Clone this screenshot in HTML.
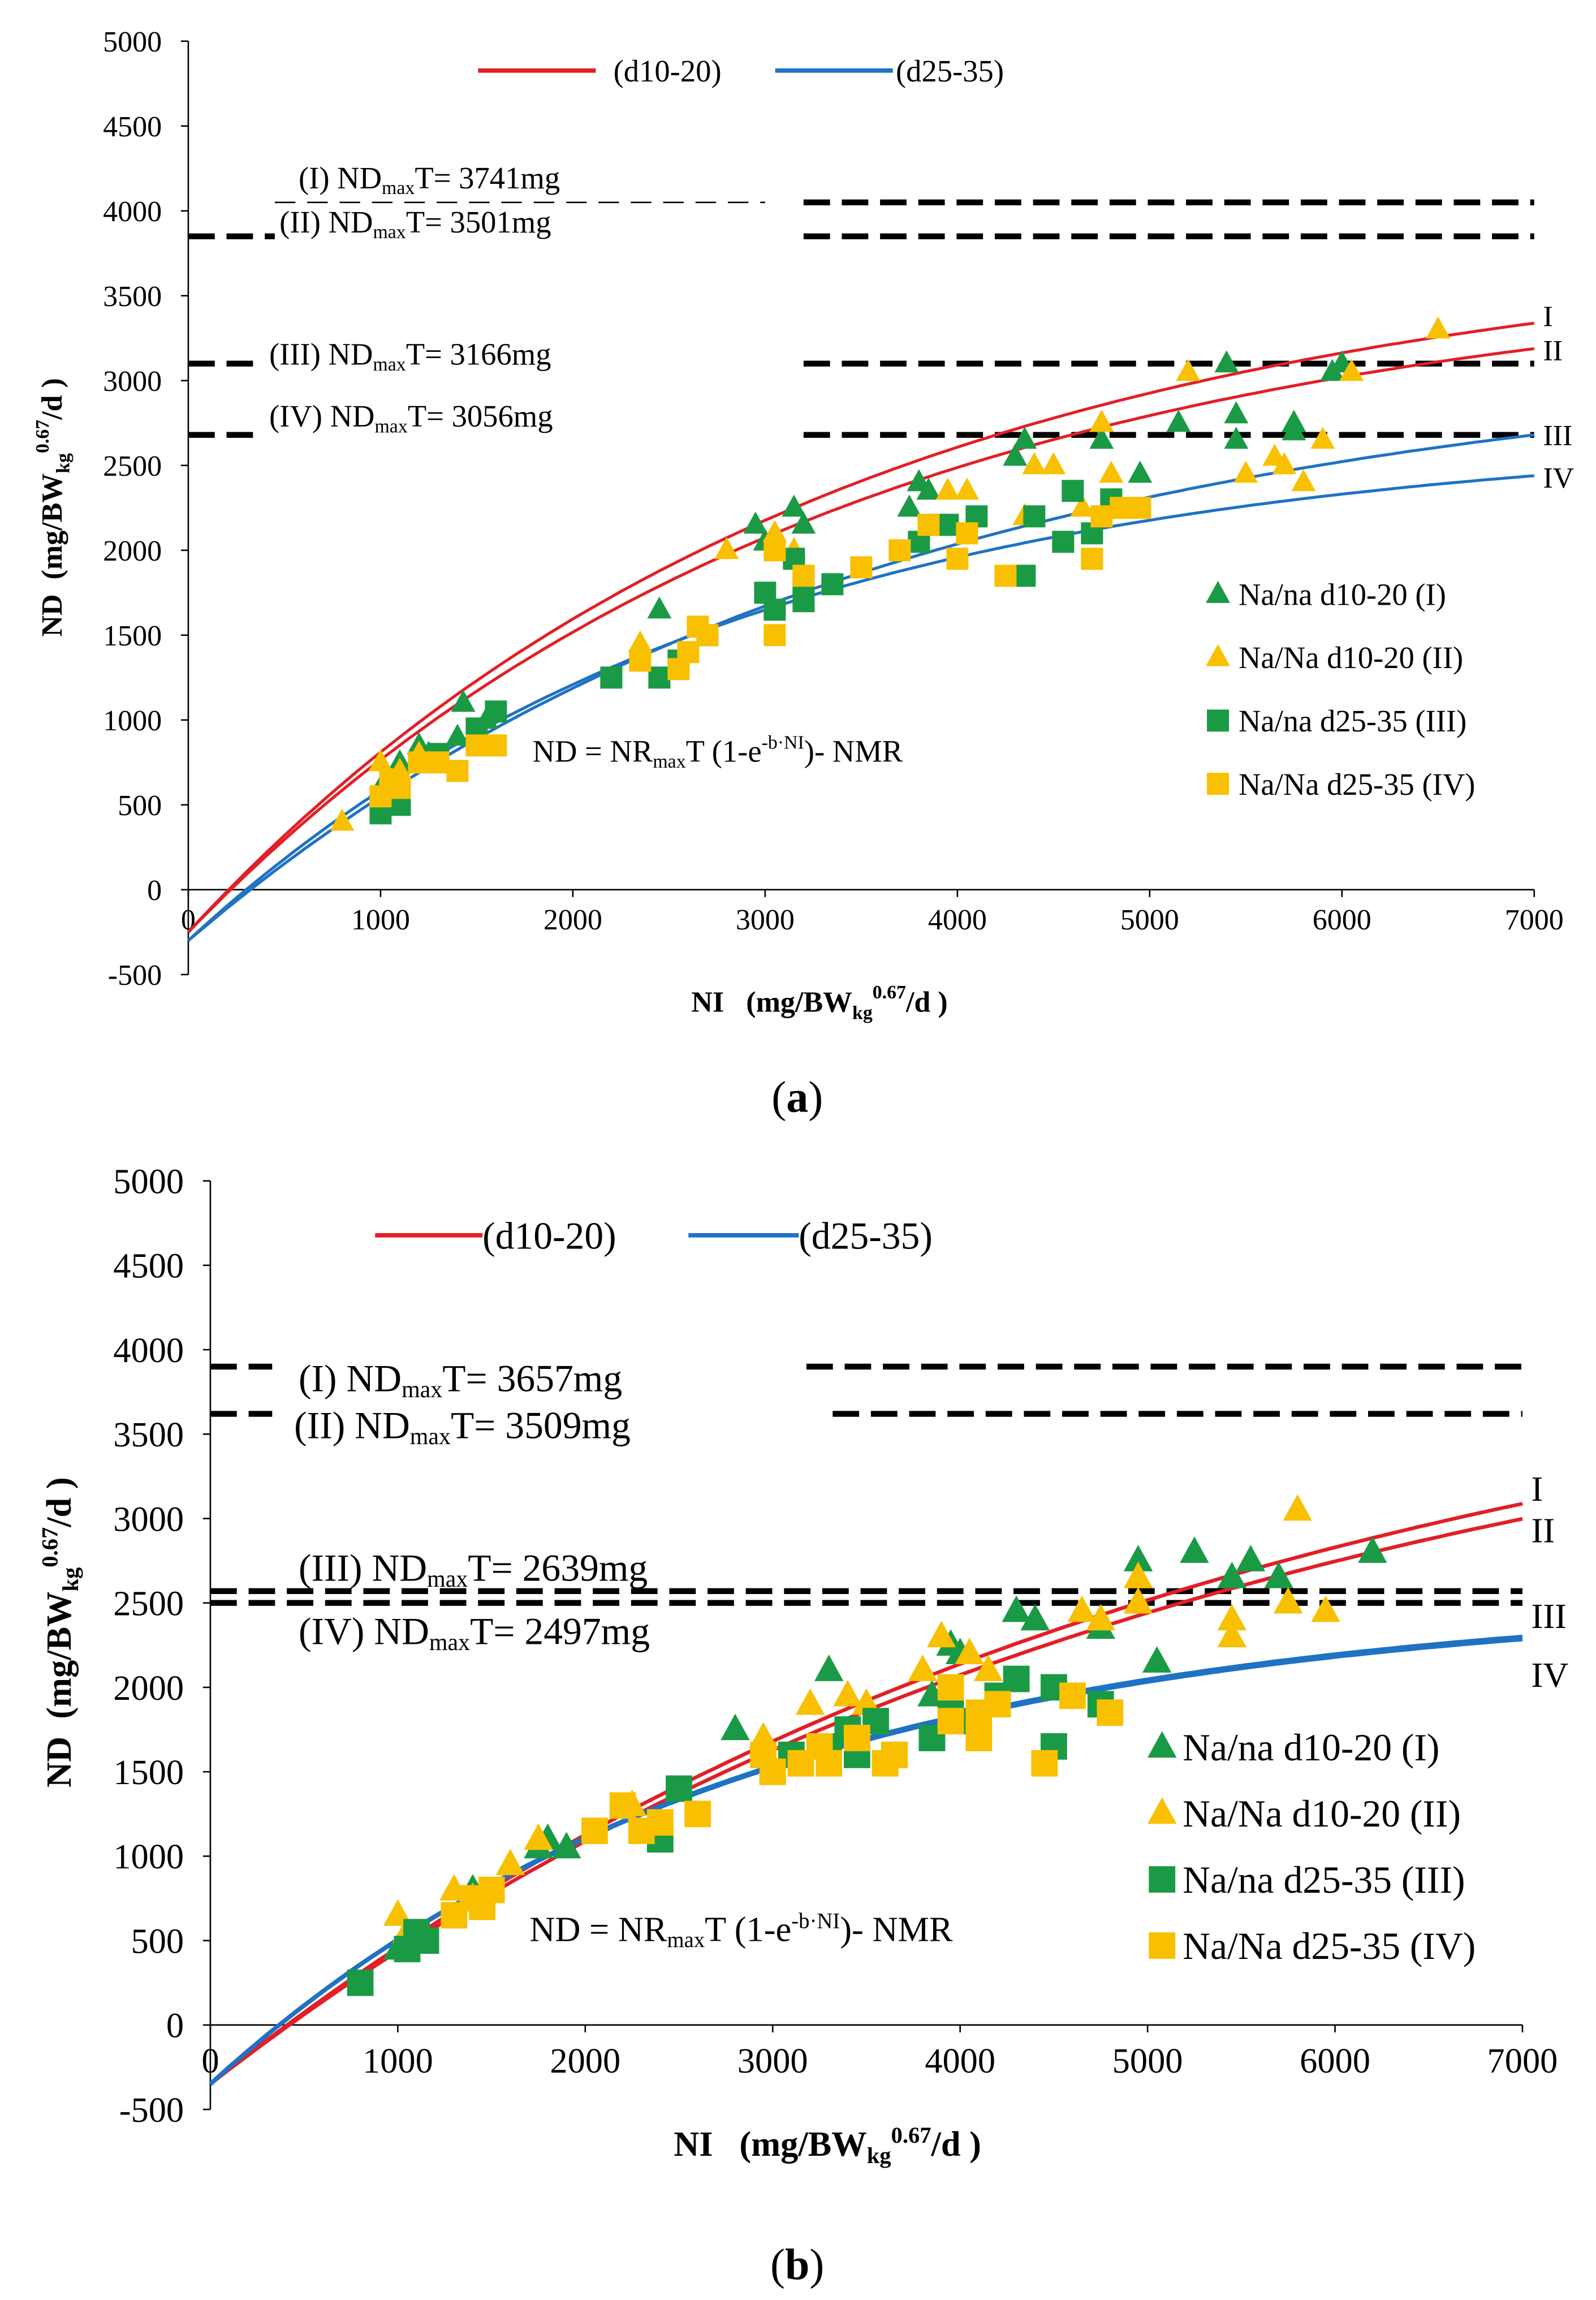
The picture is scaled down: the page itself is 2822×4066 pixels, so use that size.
<!DOCTYPE html>
<html><head><meta charset="utf-8">
<style>
html,body{margin:0;padding:0;background:#fff;}
svg{display:block;font-family:"Liberation Serif",serif;}
svg text{font-family:"Liberation Serif",serif;}
</style></head>
<body>
<svg id="fig" width="2822" height="4066" viewBox="0 0 1085 1564" preserveAspectRatio="none" font-family="Liberation Serif, serif" xmlns="http://www.w3.org/2000/svg">
</svg>
<script>
// ---- Panel (a) data ----
const aTriG=[[1000,600],[1100,750],[1200,850],[1250,800],[1400,900],[1430,1100],[1550,1000],[2450,1650],[2950,2150],[3000,2050],[3150,2250],[3200,2150],[3750,2250],[3800,2400],[3850,2350],[4300,2550],[4350,2650],[4750,2750],[4750,2650],[4950,2450],[5150,2750],[5400,3100],[5450,2800],[5450,2650],[5750,2700],[5750,2750],[5950,3050],[6000,3100]];
const aTriY=[[800,400],[1000,750],[1100,700],[1200,800],[2350,1450],[2800,2000],[3050,2100],[3150,2000],[3950,2350],[4050,2350],[4350,2200],[4400,2500],[4500,2500],[4650,2250],[4750,2750],[4800,2450],[5200,3050],[5500,2450],[5650,2550],[5700,2500],[5800,2400],[5900,2650],[6050,3050],[6500,3300]];
const aSqG=[[1000,450],[1050,550],[1100,500],[1300,800],[1500,950],[1600,1050],[2200,1250],[2450,1250],[2550,1350],[2700,1500],[3000,1750],[3050,1650],[3150,1950],[3200,1700],[3200,1800],[3350,1800],[3800,2050],[3900,2150],[3950,2150],[4100,2200],[4350,1850],[4400,2200],[4550,2050],[4600,2350],[4700,2100],[4800,2300]];
const aSqY=[[1000,550],[1050,650],[1100,600],[1200,750],[1300,750],[1400,700],[1500,850],[1600,850],[2350,1350],[2550,1300],[2600,1400],[2650,1550],[2700,1500],[3050,1500],[3050,2000],[3200,1850],[3500,1900],[3700,2000],[3850,2150],[4000,1950],[4050,2100],[4250,1850],[4700,1950],[4750,2200],[4850,2250],[4950,2250]];
const aCurveI=[4089,0.0003,250], aCurveII=[3918,0.0003,250], aCurveIII=[3469,0.00028,300], aCurveIV=[2998,0.00035,300];
// ---- Panel (b) data ----
const bTriG=[[1000,450],[1400,800],[1750,1050],[1800,1100],[1900,1050],[2800,1750],[3300,2100],[3850,1950],[3950,2250],[4000,2200],[4300,2450],[4400,2400],[4750,2350],[4950,2750],[5050,2150],[5250,2800],[5450,2650],[5550,2750],[5700,2650],[5750,2500],[6200,2800]];
const bTriY=[[1000,650],[1050,550],[1300,800],[1400,750],[1600,950],[1750,1100],[2250,1300],[2950,1700],[3200,1900],[3400,1950],[3500,1900],[3800,2100],[3900,2300],[4050,2200],[4150,2100],[4650,2450],[4750,2400],[4950,2500],[4950,2650],[5450,2400],[5450,2300],[5750,2500],[5800,3050],[5950,2450]];
const bSqG=[[800,250],[1050,450],[1100,550],[1150,500],[1450,750],[2400,1100],[2500,1400],[3000,1500],[3100,1600],[3300,1650],[3400,1750],[3450,1600],[3550,1800],[3650,1600],[3850,1700],[3950,1900],[4050,1800],[4200,1950],[4300,2050],[4500,2000],[4500,1650],[4750,1900]];
const bSqY=[[1300,650],[1400,750],[1450,700],[1500,800],[2050,1150],[2200,1300],[2300,1150],[2400,1200],[2600,1250],[2950,1600],[3000,1500],[3150,1550],[3250,1650],[3300,1550],[3450,1700],[3600,1550],[3650,1600],[3950,1800],[3950,2000],[4100,1700],[4100,1850],[4200,1900],[4450,1550],[4600,1950],[4800,1850]];
const bCurveI=[4674,0.00019,350], bCurveII=[4552,0.00019,350], bCurveIII=[2899,0.00035,350], bCurveIV=[2880,0.00035,350];
const xTicks=[0,1000,2000,3000,4000,5000,6000,7000];
const yTicks=[-500,0,500,1000,1500,2000,2500,3000,3500,4000,4500,5000];
const aNdmaxLabels=["3741mg","3501mg","3166mg","3056mg"];
const bNdmaxLabels=["3657mg","3509mg","2639mg","2497mg"];

const NS="http://www.w3.org/2000/svg";
const svg=document.getElementById('fig');
function mk(tag,attrs,parent){const e=document.createElementNS(NS,tag);for(const k in attrs)e.setAttribute(k,attrs[k]);(parent||svg).appendChild(e);return e;}
const GREEN="#1a9a45",YELLOW="#f8c000",RED="#e21f26",BLUE="#1f72c4";

function panel(P){
  const g=mk('g',{});
  
  
  const X=v=>P.x0+(v/7000)*(P.x1-P.x0);
  const Y=v=>P.y0-(v/5000)*(P.y0-P.y5);
  const ax=mk('line',{x1:X(0),y1:Y(-500),x2:X(0),y2:Y(5000),stroke:'#000','stroke-width':1},g);
  
  const xx=mk('line',{x1:X(0),y1:Y(0),x2:X(7000),y2:Y(0),stroke:'#000','stroke-width':1},g);
  
  yTicks.forEach(t=>{
    mk('line',{x1:X(0)-5,x2:X(0),y1:Y(t),y2:Y(t),stroke:'#000'},g);
    const tx=mk('text',{x:X(0)-18,y:Y(t)+P.fs*0.35,'text-anchor':'end','font-size':P.fs},g);
    tx.textContent=t;
    
  });
  xTicks.forEach(t=>{
    mk('line',{x1:X(t),x2:X(t),y1:Y(0),y2:Y(0)+5,stroke:'#000'},g);
    const tx=mk('text',{x:X(t),y:Y(0)+P.fs*1.35,'text-anchor':'middle','font-size':P.fs},g);
    tx.textContent=t;
    
  });
  P.dashes.forEach(d=>{
    d.segs.forEach(s=>{
      const l=mk('line',{x1:X(s[0]),x2:X(s[1]),y1:Y(d.v),y2:Y(d.v),stroke:'#000','stroke-width':s[2]||4,'stroke-dasharray':s[3]||'18,8'},g);
      
    });
  });
  P.curves.forEach(c=>{
    let d='';
    for(let v=0;v<=7000;v+=50){const nd=c.p[0]*(1-Math.exp(-c.p[1]*v))-c.p[2];d+=(v?'L':'M')+X(v).toFixed(1)+','+Y(nd).toFixed(1);}
    const p=mk('path',{d:d,fill:'none',stroke:c.col,'stroke-width':c.w||2},g);
    
    const nd=c.p[0]*(1-Math.exp(-c.p[1]*7000))-c.p[2];
    const t=mk('text',{x:X(7000)+6,y:Y(nd)+c.dy,'font-size':P.fs},g);
    t.textContent=c.n;
    
  });
  const s=P.ms;
  function tri(pts,col,name){pts.forEach(q=>{const cx=X(q[0]),cy=Y(q[1]);
    const e=mk('polygon',{points:`${cx},${cy-s*0.6} ${cx-s*0.55},${cy+s*0.4} ${cx+s*0.55},${cy+s*0.4}`,fill:col},g);
    });}
  function sq(pts,col,name){pts.forEach(q=>{const cx=X(q[0]),cy=Y(q[1]);
    const e=mk('rect',{x:cx-s/2,y:cy-s/2,width:s,height:s,fill:col},g);
    });}
  tri(P.triG,GREEN,'point-na-na-d10-20');
  tri(P.triY,YELLOW,'point-NaNa-d10-20');
  sq(P.sqG,GREEN,'point-na-na-d25-35');
  sq(P.sqY,YELLOW,'point-NaNa-d25-35');
  P.topLeg.forEach(L=>{
    const l=mk('line',{x1:L.x1,x2:L.x2,y1:L.y,y2:L.y,stroke:L.col,'stroke-width':3},g);
    
    const t=mk('text',{x:L.x2+L.gap,y:L.y+P.lfs*0.35,'font-size':P.lfs},g);t.textContent=L.t;
    
  });
  const names=['Na/na d10-20 (I)','Na/Na d10-20 (II)','Na/na d25-35 (III)','Na/Na d25-35 (IV)'];
  const cols=[GREEN,YELLOW,GREEN,YELLOW];
  names.forEach((n,i)=>{
    const cx=P.legX,cy=P.legY+i*P.legDy;
    let m;
    if(i<2)m=mk('polygon',{points:`${cx},${cy-s*0.6} ${cx-s*0.55},${cy+s*0.4} ${cx+s*0.55},${cy+s*0.4}`,fill:cols[i]},g);
    else m=mk('rect',{x:cx-s/2,y:cy-s/2,width:s,height:s,fill:cols[i]},g);
    
    const t=mk('text',{x:cx+14,y:cy+P.lfs*0.35,'font-size':P.lfs},g);t.textContent=n;
    
  });
  const rom=['(I)','(II)','(III)','(IV)'];
  P.ndLab.forEach((L,i)=>{
    const t=mk('text',{x:L[0],y:L[1],'font-size':P.nfs},g);
    t.innerHTML=`${rom[i]} ND<tspan font-size="${P.nfs*0.62}" dy="4">max</tspan><tspan dy="-4">T= ${P.labels[i]}</tspan>`;
    
  });
  const eq=mk('text',{x:P.eq[0],y:P.eq[1],'font-size':P.efs},g);
  eq.innerHTML=`ND = NR<tspan font-size="${P.efs*0.62}" dy="4">max</tspan><tspan dy="-4">T (1-e</tspan><tspan font-size="${P.efs*0.62}" dy="-9">-b·NI</tspan><tspan dy="9">)- NMR</tspan>`;
  
  const xt=mk('text',{x:P.xt[0],y:P.xt[1],'font-size':P.tfs,'font-weight':'bold'},g);
  xt.innerHTML=`NI &#160;&#160;(mg/BW<tspan font-size="${P.tfs*0.65}" dy="5">kg</tspan><tspan font-size="${P.tfs*0.65}" dy="-14">0.67</tspan><tspan dy="9">/d )</tspan>`;
  
  const yt=mk('text',{x:0,y:0,'font-size':P.tfs,'font-weight':'bold',transform:`translate(${P.yt[0]},${P.yt[1]}) rotate(-90)`,'text-anchor':'middle'},g);
  yt.innerHTML=`ND &#160;(mg/BW<tspan font-size="${P.tfs*0.65}" dy="5">kg</tspan><tspan font-size="${P.tfs*0.65}" dy="-14">0.67</tspan><tspan dy="9">/d )</tspan>`;
  
  const cap=mk('text',{x:P.cap[0],y:P.cap[1],'font-size':30,'text-anchor':'middle'},g);
  cap.innerHTML=`(<tspan font-weight="bold">${P.id}</tspan>)`;
  
}

panel({id:'a',x0:128,x1:1043,y0:605,y5:28,fs:20,ms:15,lfs:21,nfs:21,efs:21,tfs:20,
  triG:aTriG,triY:aTriY,sqG:aSqG,sqY:aSqY,labels:aNdmaxLabels,
  curves:[{n:'I',p:aCurveI,col:RED,dy:2},{n:'II',p:aCurveII,col:RED,dy:8},{n:'III',p:aCurveIII,col:BLUE,dy:7},{n:'IV',p:aCurveIV,col:BLUE,dy:8}],
  dashes:[{v:4050,segs:[[450,3000,1,'14,8'],[3200,7000]]},{v:3850,segs:[[0,450],[3200,7000]]},{v:3100,segs:[[0,360],[3200,7000]]},{v:2680,segs:[[0,360],[3200,7000]]}],
  topLeg:[{x1:325,x2:405,y:48,col:RED,t:'(d10-20)',gap:12},{x1:527,x2:607,y:48,col:BLUE,t:'(d25-35)',gap:2}],
  legX:828,legY:404,legDy:43,
  ndLab:[[203,128],[190,158],[183,248],[183,290]],eq:[362,518],xt:[470,688],yt:[42,345],cap:[542,756]});

panel({id:'b',x0:143,x1:1035,y0:1377,y5:803,fs:24,ms:18,lfs:26,nfs:26,efs:24,tfs:24,
  triG:bTriG,triY:bTriY,sqG:bSqG,sqY:bSqY,labels:bNdmaxLabels,
  curves:[{n:'I',p:bCurveI,col:RED,dy:-2,w:2.5},{n:'II',p:bCurveII,col:RED,dy:16,w:2.5},{n:'III',p:bCurveIII,col:BLUE,dy:-6,w:3},{n:'IV',p:bCurveIV,col:BLUE,dy:32,w:2}],
  dashes:[{v:3900,segs:[[0,330],[3180,7000]]},{v:3620,segs:[[0,330],[3320,7000]]},{v:2570,segs:[[0,7000]]},{v:2500,segs:[[0,7000]]}],
  topLeg:[{x1:255,x2:328,y:840,col:RED,t:'(d10-20)',gap:0},{x1:468,x2:543,y:840,col:BLUE,t:'(d25-35)',gap:0}],
  legX:790,legY:1188,legDy:45,
  ndLab:[[203,946],[200,978],[203,1075],[203,1118]],eq:[360,1320],xt:[458,1466],yt:[48,1110],cap:[542,1550]});
</script>
</body></html>
